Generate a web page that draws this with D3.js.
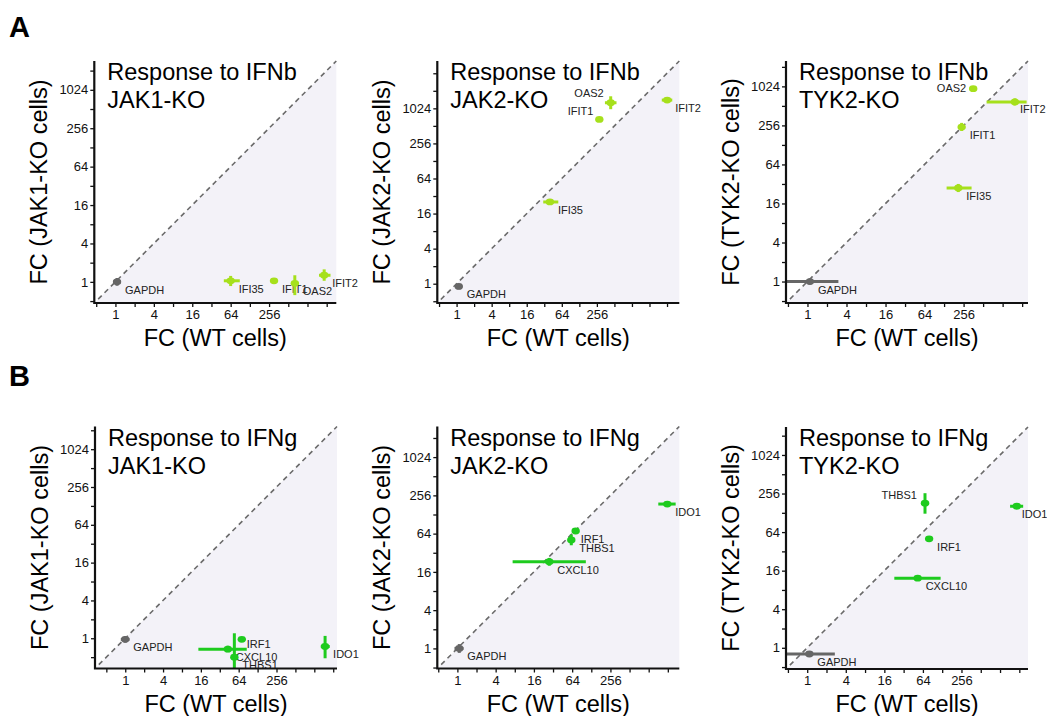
<!DOCTYPE html>
<html>
<head>
<meta charset="utf-8">
<title>Fold change, KO vs WT</title>
<script src="https://d3js.org/d3.v7.min.js"></script>
<style>
 body { margin: 0; background: #fff; }
 svg text { font-family: "Liberation Sans", Arial, Helvetica, sans-serif; }
 .tick text { font-size: 13px; fill: #111; }
 .gene { font-size: 11px; fill: #222; }
 .title { font-size: 23.5px; fill: #000; }
 .axlab { font-size: 23.5px; fill: #000; }
 .letter { font-size: 29px; font-weight: bold; fill: #000; }
</style>
</head>
<body>
<div id="chart"></div>
<script>
// each row: gene, FC in WT, FC in KO, WT low, WT high, KO low, KO high
var jak1IFNb = [
  ["GAPDH", 1.06, 1.0, 0.92, 1.22, 0.87, 1.15],
  ["IFI35", 64, 1.04, 50, 89, 0.86, 1.24],
  ["IFIT1", 306, 1.04, 280, 335, 0.95, 1.13],
  ["OAS2", 648, 0.95, 565, 745, 0.62, 1.27],
  ["IFIT2", 1870, 1.27, 1550, 2350, 1.04, 1.57]
];
var jak2IFNb = [
  ["GAPDH", 1.09, 0.9, 0.95, 1.25, 0.8, 1.0],
  ["IFI35", 40, 25.3, 30.7, 55.7, 23, 28],
  ["IFIT1", 282, 662, 255, 310, 610, 720],
  ["OAS2", 442, 1278, 352, 556, 990, 1650],
  ["IFIT2", 4120, 1420, 3330, 5040, 1300, 1550]
];
var tyk2IFNb = [
  ["GAPDH", 1.09, 1.0, 0.3, 3.0, 0.9, 1.12],
  ["IFIT1", 239, 241, 215, 265, 210, 280],
  ["IFI35", 212, 27.7, 140, 340, 24, 32],
  ["OAS2", 360, 943, 315, 410, 880, 1010],
  ["IFIT2", 1585, 588, 580, 2400, 520, 670]
];
var jak1IFNg = [
  ["GAPDH", 1.0, 0.96, 0.85, 1.17, 0.85, 1.08],
  ["IRF1", 71.7, 0.96, 66, 78, 0.9, 1.03],
  ["CXCL10", 43, 0.67, 14.6, 86, 0.6, 0.76],
  ["THBS1", 54.6, 0.5, 50, 60, 0.2, 1.2],
  ["IDO1", 1520, 0.74, 1300, 1800, 0.48, 1.09]
];
var jak2IFNg = [
  ["GAPDH", 1.07, 1.0, 0.9, 1.25, 0.85, 1.17],
  ["CXCL10", 27.9, 23.1, 7.4, 105, 20, 26.5],
  ["IRF1", 72.6, 70.4, 67, 79, 65, 76],
  ["THBS1", 62, 50.8, 57, 67, 42, 62],
  ["IDO1", 2010, 187, 1450, 2720, 175, 200]
];
var tyk2IFNg = [
  ["GAPDH", 1.08, 0.8, 0.3, 2.7, 0.74, 0.88],
  ["THBS1", 69, 181, 60, 80, 124, 259],
  ["IRF1", 80, 50.3, 74, 86, 46, 55],
  ["CXCL10", 53, 12.2, 22.9, 121, 11.3, 13.2],
  ["IDO1", 1870, 162, 1470, 2350, 152, 172]
];

var xTicks = [0.5, 1, 2, 4, 8, 16, 32, 64, 128, 256, 512, 1024, 2048, 4096];
var xLabeled = [1, 4, 16, 64, 256];
var yLabeled = [1, 4, 16, 64, 256, 1024];

var colors = { IFNb: "#a6e01c", IFNg: "#1ecb1e", ctrl: "#666666" };

// label placement exceptions: [dx, dy, anchor]
var labelPlace = {
  "A2-OAS2": [-7, -6, "end"],
  "A2-IFIT1": [-6, -4, "end"],
  "A3-OAS2": [-7, 3, "end"],
  "A3-IFIT2": [5, 11, "start"],
  "B3-THBS1": [-8, -4, "end"],
  "B3-IDO1": [5, 12, "start"],
  "B1-IRF1": [5, 9, "start"],
  "B2-IRF1": [5, 12, "start"]
};

var size = 242;
var panels = [
  { id: "A1", rows: jak1IFNb, ko: "JAK1", stim: "IFNb", left: 94.3, top: 61, dom: [-1.1, 11.5] },
  { id: "A2", rows: jak2IFNb, ko: "JAK2", stim: "IFNb", left: 437.3, top: 61, dom: [-1.1, 12.7] },
  { id: "A3", rows: tyk2IFNb, ko: "TYK2", stim: "IFNb", left: 786, top: 61, dom: [-1.1, 11.3] },
  { id: "B1", rows: jak1IFNg, ko: "JAK1", stim: "IFNg", left: 95, top: 426.5, dom: [-1.6, 11.2] },
  { id: "B2", rows: jak2IFNg, ko: "JAK2", stim: "IFNg", left: 437.3, top: 426.5, dom: [-1.05, 11.6] },
  { id: "B3", rows: tyk2IFNg, ko: "TYK2", stim: "IFNg", left: 786, top: 427, dom: [-1.1, 11.45] }
];

var svg = d3.select("#chart").append("svg")
  .attr("width", 1047)
  .attr("height", 716);

svg.append("text").attr("class", "letter").attr("x", 9).attr("y", 37).text("A");
svg.append("text").attr("class", "letter").attr("x", 9).attr("y", 386).text("B");

panels.forEach(function(p) {
  var lo = Math.pow(2, p.dom[0]), hi = Math.pow(2, p.dom[1]);
  var x = d3.scaleLog().base(2).domain([lo, hi]).range([0, size]).clamp(true);
  var y = d3.scaleLog().base(2).domain([lo, hi]).range([size, 0]).clamp(true);
  var col = colors[p.stim];

  var g = svg.append("g").attr("transform", "translate(" + p.left + "," + p.top + ")");

  // shaded half below the diagonal
  g.append("path")
    .attr("d", "M" + x(lo) + "," + y(lo) + "L" + x(hi) + "," + y(lo) + "L" + x(hi) + "," + y(hi) + "Z")
    .attr("fill", "#f3f2f8");

  g.append("line")
    .attr("x1", x(lo * 1.15)).attr("y1", y(lo * 1.15))
    .attr("x2", x(hi)).attr("y2", y(hi))
    .attr("stroke", "#6a6a6a")
    .attr("stroke-width", 1.6)
    .attr("stroke-dasharray", "5,4");

  var pts = g.append("g").selectAll("g")
    .data(p.rows)
    .enter().append("g");

  pts.append("line")
    .attr("x1", function(d) { return x(d[3]); })
    .attr("x2", function(d) { return x(d[4]); })
    .attr("y1", function(d) { return y(d[2]); })
    .attr("y2", function(d) { return y(d[2]); })
    .attr("stroke", function(d) { return d[0] == "GAPDH" ? colors.ctrl : col; })
    .attr("stroke-width", 3);

  pts.append("line")
    .attr("x1", function(d) { return x(d[1]); })
    .attr("x2", function(d) { return x(d[1]); })
    .attr("y1", function(d) { return y(d[5]); })
    .attr("y2", function(d) { return y(d[6]); })
    .attr("stroke", function(d) { return d[0] == "GAPDH" ? colors.ctrl : col; })
    .attr("stroke-width", 3);

  pts.append("ellipse")
    .attr("cx", function(d) { return x(d[1]); })
    .attr("cy", function(d) { return y(d[2]); })
    .attr("rx", 4.2)
    .attr("ry", 3.4)
    .attr("fill", function(d) { return d[0] == "GAPDH" ? colors.ctrl : col; });

  pts.append("text")
    .attr("class", "gene")
    .each(function(d) {
      var pl = labelPlace[p.id + "-" + d[0]] || [8, 12, "start"];
      d3.select(this)
        .attr("x", x(d[1]) + pl[0])
        .attr("y", y(d[2]) + pl[1])
        .attr("text-anchor", pl[2]);
    })
    .text(function(d) { return d[0]; });

  // axes
  var xt = xTicks.filter(function(t) { return t >= lo && t <= hi; });
  var xAxis = g.append("g")
    .attr("transform", "translate(0," + size + ")")
    .call(d3.axisBottom(x).tickValues(xt).tickSize(4).tickPadding(3).tickSizeOuter(0)
      .tickFormat(function(d) { return xLabeled.indexOf(d) >= 0 ? d : ""; }));
  var yAxis = g.append("g")
    .call(d3.axisLeft(y).tickValues(xt).tickSize(4).tickPadding(2).tickSizeOuter(0)
      .tickFormat(function(d) { return yLabeled.indexOf(d) >= 0 ? d : ""; }));
  [xAxis, yAxis].forEach(function(a) {
    a.select(".domain").remove();
    a.selectAll(".tick line").attr("stroke", "#111").attr("stroke-width", 1.3);
    a.selectAll(".tick text").attr("font-family", null).attr("font-size", null);
  });
  g.append("path")
    .attr("d", "M0,0V" + size + "H" + size)
    .attr("fill", "none")
    .attr("stroke", "#111")
    .attr("stroke-width", 2.2);

  // title and axis labels
  g.append("text").attr("class", "title").attr("x", 13).attr("y", 19).text("Response to " + p.stim);
  g.append("text").attr("class", "title").attr("x", 13).attr("y", 47).text(p.ko + "-KO");

  g.append("text").attr("class", "axlab")
    .attr("x", size / 2).attr("y", size + 43)
    .attr("text-anchor", "middle")
    .text("FC (WT cells)");
  g.append("text").attr("class", "axlab")
    .attr("transform", "translate(-47," + (size / 2) + ") rotate(-90)")
    .attr("text-anchor", "middle")
    .text("FC (" + p.ko + "-KO cells)");
});
</script>
</body>
</html>
